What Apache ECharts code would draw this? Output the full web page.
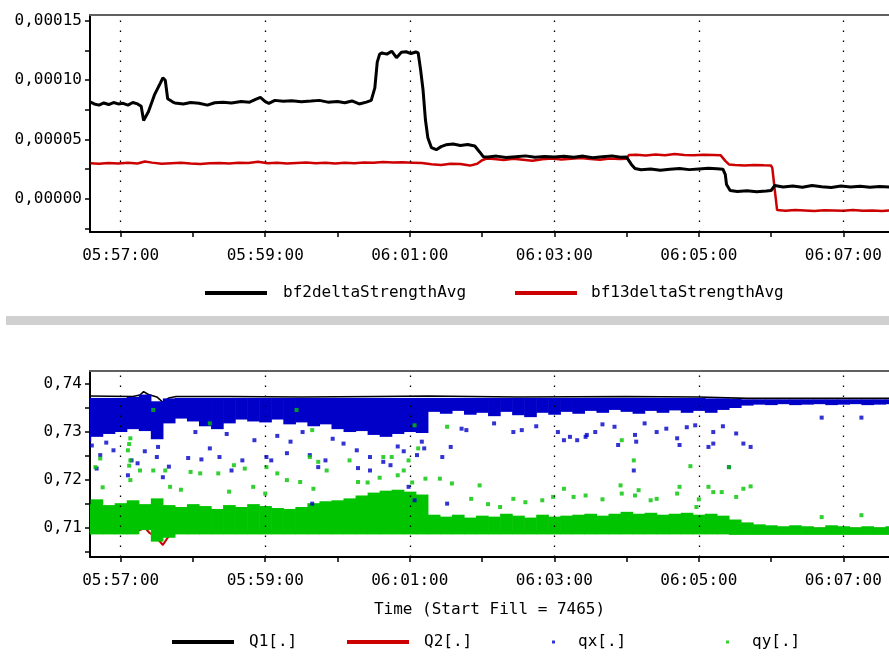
<!DOCTYPE html>
<html>
<head>
<meta charset="utf-8">
<script src="https://cdn.jsdelivr.net/npm/echarts@6/dist/echarts.min.js"></script>
<style>html,body{margin:0;padding:0;background:#fff}#c{width:889px;height:656px}</style>
</head>
<body>
<div id="c"></div>
<script>
// ---------- DATA ----------
const xTickTimes = ['05:57:00','05:58:00','05:59:00','06:00:00','06:01:00','06:02:00','06:03:00','06:04:00','06:05:00','06:06:00','06:07:00'];
const xLabelTimes = ['05:57:00','05:59:00','06:01:00','06:03:00','06:05:00','06:07:00'];
const topTicks = [-0.000025, 0, 0.000025, 0.00005, 0.000075, 0.0001, 0.000125, 0.00015];
const topLabels = [0, 0.00005, 0.0001, 0.00015];
const botTicks = [0.705, 0.71, 0.715, 0.72, 0.725, 0.73, 0.735, 0.74];
const botLabels = [0.71, 0.72, 0.73, 0.74];

const bf2 = [
['05:56:35',0.0000815],['05:56:38',0.0000800],['05:56:42',0.0000790],['05:56:46',0.0000808],['05:56:50',0.0000795],
['05:56:54',0.0000812],['05:56:58',0.0000800],['05:57:02',0.0000805],['05:57:06',0.0000790],['05:57:10',0.0000812],
['05:57:14',0.0000800],['05:57:17',0.0000780],['05:57:19',0.0000660],['05:57:23',0.0000734],['05:57:28',0.0000876],
['05:57:33',0.0000977],['05:57:35',0.0001020],['05:57:37',0.0001000],['05:57:39',0.0000843],['05:57:43',0.0000818],
['05:57:45',0.0000808],['05:57:52',0.0000800],['05:57:58',0.0000812],['05:58:05',0.0000805],['05:58:12',0.0000790],
['05:58:18',0.0000810],['05:58:25',0.0000815],['05:58:32',0.0000808],['05:58:40',0.0000820],['05:58:47',0.0000815],
['05:58:52',0.0000838],['05:58:56',0.0000855],['05:59:00',0.0000820],['05:59:03',0.0000805],['05:59:08',0.0000830],
['05:59:15',0.0000822],['05:59:22',0.0000826],['05:59:30',0.0000818],['05:59:38',0.0000824],['05:59:45',0.0000830],
['05:59:52',0.0000815],['06:00:00',0.0000820],['06:00:06',0.0000810],['06:00:12',0.0000825],['06:00:18',0.0000800],
['06:00:24',0.0000815],['06:00:28',0.0000830],['06:00:31',0.0000935],['06:00:33',0.0001153],['06:00:35',0.0001220],
['06:00:37',0.0001230],['06:00:41',0.0001220],['06:00:45',0.0001245],['06:00:49',0.0001190],['06:00:53',0.0001235],
['06:00:57',0.0001240],['06:01:01',0.0001225],['06:01:05',0.0001238],['06:01:07',0.0001230],['06:01:09',0.0001087],
['06:01:11',0.0000920],['06:01:13',0.0000666],['06:01:15',0.0000515],['06:01:18',0.0000431],['06:01:22',0.0000414],
['06:01:26',0.0000440],['06:01:30',0.0000455],['06:01:36',0.0000462],['06:01:42',0.0000450],['06:01:48',0.0000458],
['06:01:54',0.0000445],['06:01:58',0.0000395],['06:02:01',0.0000355],['06:02:05',0.0000352],['06:02:12',0.0000360],
['06:02:20',0.0000348],['06:02:28',0.0000355],['06:02:36',0.0000362],['06:02:44',0.0000350],['06:02:52',0.0000356],
['06:03:00',0.0000352],['06:03:08',0.0000358],['06:03:16',0.0000350],['06:03:24',0.0000360],['06:03:32',0.0000347],
['06:03:40',0.0000355],['06:03:48',0.0000362],['06:03:55',0.0000350],['06:04:00',0.0000352],['06:04:04',0.0000290],
['06:04:07',0.0000255],['06:04:12',0.0000245],['06:04:20',0.0000252],['06:04:28',0.0000240],['06:04:36',0.0000250],
['06:04:44',0.0000255],['06:04:52',0.0000246],['06:05:00',0.0000252],['06:05:08',0.0000258],['06:05:15',0.0000254],
['06:05:20',0.0000250],['06:05:22',0.0000204],['06:05:23',0.0000120],['06:05:26',0.0000070],['06:05:32',0.0000062],
['06:05:40',0.0000068],['06:05:48',0.0000060],['06:05:56',0.0000066],['06:06:00',0.0000070],['06:06:03',0.0000112],
['06:06:10',0.0000100],['06:06:18',0.0000108],['06:06:26',0.0000098],['06:06:34',0.0000112],['06:06:42',0.0000102],
['06:06:50',0.0000096],['06:06:58',0.0000108],['06:07:06',0.0000100],['06:07:14',0.0000106],['06:07:22',0.0000098],
['06:07:30',0.0000104],['06:07:38',0.0000100],['06:07:46',0.0000102]
];

const bf13 = [
['05:56:35',0.0000300],['05:56:42',0.0000295],['05:56:50',0.0000302],['05:56:58',0.0000298],['05:57:06',0.0000304],
['05:57:14',0.0000298],['05:57:20',0.0000315],['05:57:26',0.0000305],['05:57:34',0.0000296],['05:57:42',0.0000300],
['05:57:50',0.0000303],['05:57:58',0.0000298],['05:58:06',0.0000294],['05:58:14',0.0000300],['05:58:22',0.0000302],
['05:58:30',0.0000298],['05:58:38',0.0000305],['05:58:46',0.0000302],['05:58:54',0.0000312],['05:59:02',0.0000300],
['05:59:10',0.0000304],['05:59:18',0.0000298],['05:59:26',0.0000302],['05:59:34',0.0000306],['05:59:42',0.0000300],
['05:59:50',0.0000303],['05:59:58',0.0000298],['06:00:06',0.0000304],['06:00:14',0.0000300],['06:00:22',0.0000306],
['06:00:30',0.0000304],['06:00:38',0.0000310],['06:00:46',0.0000306],['06:00:54',0.0000308],['06:01:02',0.0000305],
['06:01:10',0.0000302],['06:01:18',0.0000292],['06:01:26',0.0000285],['06:01:34',0.0000296],['06:01:42',0.0000294],
['06:01:50',0.0000280],['06:01:56',0.0000296],['06:02:00',0.0000325],['06:02:04',0.0000340],['06:02:10',0.0000335],
['06:02:18',0.0000328],['06:02:26',0.0000338],['06:02:34',0.0000330],['06:02:42',0.0000320],['06:02:50',0.0000334],
['06:02:58',0.0000340],['06:03:06',0.0000332],['06:03:14',0.0000338],['06:03:22',0.0000344],['06:03:30',0.0000336],
['06:03:38',0.0000330],['06:03:46',0.0000340],['06:03:54',0.0000336],['06:04:00',0.0000338],['06:04:02',0.0000370],
['06:04:08',0.0000372],['06:04:16',0.0000366],['06:04:24',0.0000374],['06:04:32',0.0000368],['06:04:40',0.0000378],
['06:04:48',0.0000370],['06:04:56',0.0000368],['06:05:04',0.0000372],['06:05:12',0.0000370],['06:05:18',0.0000368],
['06:05:22',0.0000320],['06:05:25',0.0000290],['06:05:30',0.0000285],['06:05:38',0.0000280],['06:05:46',0.0000286],
['06:05:54',0.0000282],['06:06:00',0.0000280],['06:06:01',0.0000260],['06:06:03',0.0000080],['06:06:05',-0.0000095],
['06:06:12',-0.0000100],['06:06:20',-0.0000094],['06:06:28',-0.0000098],['06:06:36',-0.0000102],['06:06:44',-0.0000096],
['06:06:52',-0.0000098],['06:07:00',-0.0000100],['06:07:08',-0.0000095],['06:07:16',-0.0000100],['06:07:24',-0.0000098],
['06:07:32',-0.0000102],['06:07:40',-0.0000098],['06:07:46',-0.0000099]
];

const q1 = [
['05:56:34',0.7375],['05:57:10',0.7374],['05:57:16',0.7377],['05:57:19',0.7384],['05:57:23',0.7378],['05:57:30',0.7373],
['05:57:35',0.7362],['05:57:40',0.7371],['05:57:46',0.7374],['05:58:30',0.7374],['05:59:30',0.7373],['06:00:30',0.7374],
['06:01:15',0.7375],['06:02:30',0.7373],['06:04:00',0.7374],['06:05:00',0.7373],['06:05:40',0.7370],['06:06:30',0.7370],
['06:07:46',0.7370]
];
const q2 = [
['05:56:34',0.7093],['05:57:12',0.7093],['05:57:17',0.7097],['05:57:19',0.7104],['05:57:24',0.7090],['05:57:30',0.7080],
['05:57:35',0.7065],['05:57:40',0.7084],['05:57:46',0.7093],['06:01:00',0.7093],['06:04:00',0.7093],['06:05:30',0.7094],
['06:06:00',0.7098],['06:06:30',0.7099],['06:07:46',0.7099]
];

// dense band envelopes (sampled every 10 s)
const bandTimes = ['05:56:30','05:56:40','05:56:50','05:57:00','05:57:10','05:57:20','05:57:30','05:57:40','05:57:50',
'05:58:00','05:58:10','05:58:20','05:58:30','05:58:40','05:58:50','05:59:00','05:59:10','05:59:20','05:59:30','05:59:40','05:59:50',
'06:00:00','06:00:10','06:00:20','06:00:30','06:00:40','06:00:50','06:01:00','06:01:10','06:01:20','06:01:30','06:01:40','06:01:50',
'06:02:00','06:02:10','06:02:20','06:02:30','06:02:40','06:02:50','06:03:00','06:03:10','06:03:20','06:03:30','06:03:40','06:03:50',
'06:04:00','06:04:10','06:04:20','06:04:30','06:04:40','06:04:50','06:05:00','06:05:10','06:05:20','06:05:30','06:05:40','06:05:50',
'06:06:00','06:06:10','06:06:20','06:06:30','06:06:40','06:06:50','06:07:00','06:07:10','06:07:20','06:07:30','06:07:40','06:07:50'];
const qxHigh = [0.7371,0.7371,0.7371,0.7371,0.7373,0.7378,0.7364,0.7370,0.7371,
0.7371,0.7371,0.7371,0.7371,0.7371,0.7371,0.7371,0.7371,0.7371,0.7371,0.7371,0.7371,
0.7371,0.7371,0.7371,0.7371,0.7371,0.7371,0.7371,0.7371,0.7371,0.7371,0.7371,0.7371,
0.7371,0.7371,0.7371,0.7371,0.7371,0.7371,0.7371,0.7371,0.7371,0.7371,0.7371,0.7371,
0.7371,0.7371,0.7371,0.7371,0.7371,0.7371,0.7371,0.7370,0.7370,0.7369,0.7368,0.7368,
0.7368,0.7368,0.7368,0.7368,0.7368,0.7368,0.7368,0.7368,0.7368,0.7368,0.7368,0.7368];
const qxLow = [0.7280,0.7290,0.7296,0.7300,0.7306,0.7302,0.7285,0.7318,0.7328,
0.7322,0.7312,0.7306,0.7318,0.7326,0.7322,0.7320,0.7326,0.7316,0.7320,0.7312,0.7316,
0.7306,0.7300,0.7302,0.7294,0.7290,0.7296,0.7300,0.7298,0.7342,0.7338,0.7344,0.7336,
0.7340,0.7333,0.7342,0.7335,0.7331,0.7340,0.7336,0.7342,0.7338,0.7344,0.7340,0.7346,
0.7342,0.7338,0.7344,0.7340,0.7345,0.7340,0.7344,0.7340,0.7346,0.7350,0.7355,0.7357,
0.7356,0.7358,0.7356,0.7357,0.7358,0.7356,0.7357,0.7358,0.7356,0.7357,0.7358,0.7357];
const qyHigh = [0.7150,0.7160,0.7148,0.7152,0.7158,0.7150,0.7162,0.7148,0.7144,
0.7150,0.7146,0.7140,0.7148,0.7144,0.7150,0.7146,0.7142,0.7140,0.7144,0.7152,0.7156,
0.7158,0.7162,0.7168,0.7174,0.7178,0.7180,0.7176,0.7170,0.7128,0.7124,0.7128,0.7122,
0.7126,0.7124,0.7130,0.7126,0.7122,0.7128,0.7124,0.7126,0.7128,0.7130,0.7126,0.7130,
0.7134,0.7130,0.7132,0.7128,0.7130,0.7132,0.7128,0.7130,0.7126,0.7118,0.7112,0.7108,
0.7106,0.7104,0.7106,0.7104,0.7102,0.7106,0.7104,0.7102,0.7104,0.7102,0.7104,0.7102];
const qyLow = [0.7087,0.7087,0.7087,0.7087,0.7087,0.7096,0.7072,0.7080,0.7087,
0.7087,0.7087,0.7087,0.7087,0.7087,0.7087,0.7087,0.7087,0.7087,0.7087,0.7087,0.7087,
0.7087,0.7087,0.7087,0.7087,0.7087,0.7087,0.7087,0.7087,0.7087,0.7087,0.7087,0.7087,
0.7087,0.7087,0.7087,0.7087,0.7087,0.7087,0.7087,0.7087,0.7087,0.7087,0.7087,0.7087,
0.7087,0.7087,0.7087,0.7087,0.7087,0.7087,0.7087,0.7087,0.7087,0.7086,0.7086,0.7086,
0.7086,0.7086,0.7086,0.7086,0.7086,0.7086,0.7086,0.7086,0.7086,0.7086,0.7086,0.7086];

// sparse points outside the dense bands
const qxPts = [['05:56:40',0.7224],['05:56:43',0.7252],['05:56:54',0.7262],['05:57:06',0.7210],['05:57:09',0.7241],['05:57:30',0.7248],
['05:57:35',0.7206],['05:57:31',0.7269],['05:57:56',0.7246],['05:58:07',0.7243],['05:58:14',0.7266],['05:58:22',0.7248],['05:58:32',0.7220],
['05:58:41',0.7241],['05:58:51',0.7283],['05:59:01',0.7248],['05:59:05',0.7241],['05:59:18',0.7256],['05:59:21',0.7280],['05:59:31',0.7300],
['05:59:37',0.7252],['05:59:39',0.7151],['05:59:44',0.7227],['05:59:50',0.7241],['06:00:16',0.7262],['06:00:17',0.7225],['06:00:27',0.7248],
['06:00:27',0.7220],['06:00:38',0.7238],['06:00:44',0.7231],['06:00:59',0.7186],['06:01:04',0.7158],['06:01:06',0.7252],['06:01:27',0.7248],
['06:01:31',0.7151],['06:01:34',0.7269],['06:01:43',0.7307],['06:01:47',0.7304],['06:02:26',0.7300],['06:02:33',0.7304],['06:03:03',0.7300],
['06:03:08',0.7283],['06:03:13',0.7290],['06:03:19',0.7283],['06:03:26',0.7290],['06:03:27',0.7294],['06:03:34',0.7300],['06:03:50',0.7311],
['06:03:53',0.7273],['06:04:06',0.7220],['06:04:07',0.7294],['06:04:08',0.7280],['06:04:25',0.7300],['06:04:33',0.7307],['06:04:42',0.7287],
['06:04:44',0.7273],['06:04:57',0.7314],['06:05:08',0.7269],['06:05:12',0.7300],['06:05:12',0.7276],['06:05:25',0.7227],['06:05:31',0.7297],
['06:05:37',0.7276],['06:05:43',0.7269],['06:06:42',0.7330],['06:07:15',0.7330],
['05:56:36',0.7272],['05:56:48',0.7278],['05:57:14',0.7235],['05:57:20',0.7260],['05:57:40',0.7228],['05:58:02',0.7300],['05:58:28',0.7296],
['05:59:10',0.7292],['05:59:56',0.7286],['06:00:05',0.7276],['06:00:50',0.7270],['06:00:55',0.7260],['06:01:10',0.7280],['06:01:12',0.7266],
['06:02:10',0.7318],['06:02:45',0.7312],['06:03:40',0.7316],['06:04:15',0.7318],['06:04:50',0.7310],['06:05:20',0.7312]];
const qyPts = [['05:57:27',0.7346],['05:58:14',0.7318],['05:57:08',0.7287],['05:57:06',0.7262],['05:56:43',0.7245],['05:56:39',0.7227],
['05:57:08',0.7241],['05:57:16',0.7220],['05:57:27',0.7220],['05:57:37',0.7220],['05:57:41',0.7186],['05:57:58',0.7217],['05:58:06',0.7214],
['05:58:21',0.7214],['05:58:34',0.7231],['05:58:43',0.7224],['05:58:50',0.7186],['05:59:01',0.7227],['05:59:10',0.7214],['05:59:18',0.7200],
['05:59:26',0.7346],['05:59:39',0.7304],['05:59:37',0.7248],['05:59:44',0.7238],['05:59:51',0.7220],['05:59:29',0.7196],['05:59:40',0.7182],
['06:00:10',0.7241],['06:00:17',0.7196],['06:00:38',0.7248],['06:00:45',0.7248],['06:00:55',0.7220],['06:00:59',0.7241],['06:01:04',0.7314],
['06:01:07',0.7266],['06:01:13',0.7203],['06:01:25',0.7203],['06:01:35',0.7193],['06:01:31',0.7311],['06:01:51',0.7161],['06:01:58',0.7189],
['06:02:15',0.7144],['06:02:26',0.7161],['06:02:36',0.7154],['06:02:59',0.7165],['06:03:08',0.7182],['06:03:16',0.7165],['06:03:26',0.7168],
['06:03:56',0.7283],['06:04:06',0.7241],['06:03:55',0.7189],['06:03:56',0.7172],['06:04:07',0.7168],['06:04:10',0.7179],['06:04:25',0.7161],
['06:04:42',0.7172],['06:04:44',0.7186],['06:04:53',0.7229],['06:04:58',0.7144],['06:05:08',0.7186],['06:05:12',0.7175],['06:05:19',0.7175],
['06:05:25',0.7227],['06:05:31',0.7165],['06:05:37',0.7182],['06:05:43',0.7187],['06:06:42',0.7123],['06:07:15',0.7127],
['05:57:07',0.7275],['05:57:07',0.7230],['05:57:08',0.7200],['05:56:45',0.7185],['05:57:50',0.7180],['05:58:30',0.7176],['05:59:00',0.7172],
['06:00:25',0.7195],['06:00:35',0.7205],['06:00:50',0.7210],['06:01:02',0.7195],['06:02:05',0.7150],['06:02:50',0.7158],['06:03:40',0.7160],
['06:04:20',0.7158],['06:05:00',0.7160]];

// ---------- HELPERS ----------
function ts(s){const p=s.split(':').map(Number);return p[0]*3600+p[1]*60+p[2];}
function pad(n){return (n<10?'0':'')+n;}
function fmtT(v){v=Math.round(v);return pad(Math.floor(v/3600))+':'+pad(Math.floor(v%3600/60))+':'+pad(v%60);}
function pts(arr){return arr.map(d=>[ts(d[0]),d[1]]);}
const X_MIN = ts('05:56:34') + 0.5, X_MAX = ts('06:07:37') + 0.9;
const FONT = 'DejaVu Sans Mono';
const BLUE = '#0000c8', GREEN = '#00c400', RED = '#cc0000', BLACK = '#000000';

function xAxisCfg(gi, name){
  return {
    type:'value', gridIndex:gi, min:X_MIN, max:X_MAX,
    axisLine:{show:true, onZero:false, lineStyle:{color:'#000', width:2}},
    axisTick:{show:true, length:5, customValues:xTickTimes.map(ts), lineStyle:{color:'#000', width:1.5}},
    axisLabel:{show:true, customValues:xLabelTimes.map(ts), formatter:fmtT, margin:16, color:'#000',
      fontFamily:FONT, fontSize:16},
    splitLine:{show:false},
    name:name||'', nameLocation:'middle', nameGap:45,
    nameTextStyle:{fontFamily:FONT, fontSize:16, color:'#000'}
  };
}
function topBorderAxis(gi){
  return {
    type:'value', gridIndex:gi, position:'top', min:X_MIN, max:X_MAX,
    axisLine:{show:true, onZero:false, lineStyle:{color:'#606060', width:2}},
    axisTick:{show:false}, axisLabel:{show:false}, splitLine:{show:false}
  };
}
function yAxisCfg(gi, min, max, ticks, labels, dec){
  return {
    type:'value', gridIndex:gi, min:min, max:max,
    axisLine:{show:true, onZero:false, lineStyle:{color:'#000', width:2}},
    axisTick:{show:true, length:5, customValues:ticks, lineStyle:{color:'#000', width:1.5}},
    axisLabel:{show:true, customValues:labels, margin:8, color:'#000', fontFamily:FONT, fontSize:16,
      formatter:v=>v.toFixed(dec).replace('.', ',')},
    splitLine:{show:false}
  };
}
const gridMark = {
  silent:true, symbol:['none','none'], label:{show:false},
  lineStyle:{color:'#000', width:1.3, type:[1.5,8.5]},
  data: xLabelTimes.map(t=>({xAxis:ts(t)}))
};

// band drawn as step blocks: each sample covers +-5 s
function bandSeries(name, low, high, color){
  return {
    name:name, type:'custom', xAxisIndex:1, yAxisIndex:1, silent:true, z:2,
    data: bandTimes.map((t,i)=>[ts(t), low[i], high[i]]),
    renderItem: function(params, api){
      const t = api.value(0);
      const p0 = api.coord([t-5, api.value(2)]);
      const p1 = api.coord([t+5, api.value(1)]);
      const rect = echarts.graphic.clipRectByRect(
        {x:p0[0], y:p0[1], width:p1[0]-p0[0]+0.6, height:p1[1]-p0[1]},
        {x:params.coordSys.x, y:params.coordSys.y, width:params.coordSys.width, height:params.coordSys.height});
      return rect && {type:'rect', shape:rect, style:{fill:color}};
    }
  };
}

const legendText = {fontFamily:FONT, fontSize:16, color:'#000'};
function leg(name, left, top, w, h, pad){
  return {data:[name], left:left, top:top, orient:'horizontal', icon:'rect', itemWidth:w, itemHeight:h,
    selectedMode:false, textStyle:Object.assign({padding:[0,0,0,pad]}, legendText)};
}

const option = {
  animation:false,
  backgroundColor:'#fff',
  grid:[
    {left:90, right:0, top:15, height:217, show:false},
    {left:90, right:0, top:371, height:186, show:false}
  ],
  xAxis:[xAxisCfg(0), xAxisCfg(1, 'Time (Start Fill = 7465)'), topBorderAxis(0), topBorderAxis(1)],
  yAxis:[yAxisCfg(0, -0.000028, 0.000155, topTicks, topLabels, 5),
         yAxisCfg(1, 0.704, 0.7427, botTicks, botLabels, 2)],
  legend:[
    leg('bf2deltaStrengthAvg', 200, 280, 62, 4, 11),
    leg('bf13deltaStrengthAvg', 510, 280, 62, 4, 9),
    leg('Q1[.]', 167, 629, 62, 4, 10),
    leg('Q2[.]', 342, 629, 62, 4, 10),
    leg('qx[.]', 547, 629, 3, 3, 18),
    leg('qy[.]', 721, 629, 3, 3, 18)
  ],
  graphic:[{type:'rect', shape:{x:6, y:316, width:883, height:9}, style:{fill:'#d0d0d0'}, silent:true}],
  series:[
    {name:'bf13deltaStrengthAvg', type:'line', xAxisIndex:0, yAxisIndex:0, symbol:'none', color:RED,
      lineStyle:{color:RED, width:2.5}, data:pts(bf13), markLine:gridMark},
    {name:'bf2deltaStrengthAvg', type:'line', xAxisIndex:0, yAxisIndex:0, symbol:'none', color:BLACK,
      lineStyle:{color:BLACK, width:3}, data:pts(bf2)},
    {name:'Q1[.]', type:'line', xAxisIndex:1, yAxisIndex:1, symbol:'none', color:BLACK, z:1,
      lineStyle:{color:BLACK, width:1.6}, data:pts(q1), markLine:gridMark},
    {name:'Q2[.]', type:'line', xAxisIndex:1, yAxisIndex:1, symbol:'none', color:RED, z:1,
      lineStyle:{color:RED, width:2}, data:pts(q2)},
    bandSeries('qxBand', qxLow, qxHigh, BLUE),
    bandSeries('qyBand', qyLow, qyHigh, GREEN),
    {name:'qx[.]', type:'scatter', xAxisIndex:1, yAxisIndex:1, symbol:'rect', symbolSize:4, color:BLUE, z:3,
      itemStyle:{color:BLUE}, data:pts(qxPts)},
    {name:'qy[.]', type:'scatter', xAxisIndex:1, yAxisIndex:1, symbol:'rect', symbolSize:4, color:GREEN, z:3,
      itemStyle:{color:GREEN}, data:pts(qyPts)}
  ]
};
const chart = echarts.init(document.getElementById('c'), null, {renderer:'canvas'});
chart.setOption(option);
</script>
</body>
</html>
